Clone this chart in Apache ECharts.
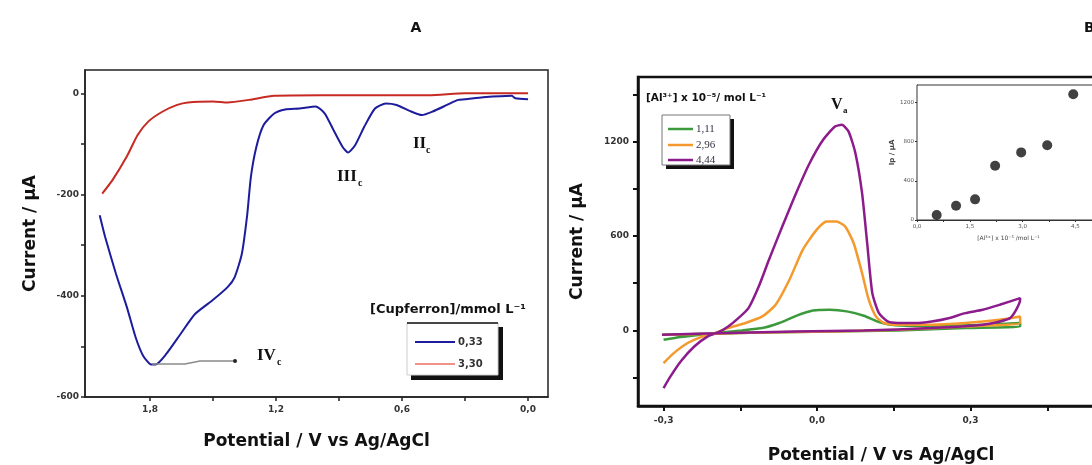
<!DOCTYPE html>
<html>
<head>
<meta charset="utf-8">
<title>Voltammograms</title>
<script src="https://cdn.jsdelivr.net/npm/echarts@6/dist/echarts.min.js"></script>
<style>
  html, body { margin:0; padding:0; background:#fff; }
  #main { width:1092px; height:465px; }
</style>
</head>
<body>
<div id="main"></div>
<script>
// panel A : cupferron, potential (V) / current (uA)
var potA_033 = [2.04, 2.014, 1.963, 1.911, 1.869, 1.834, 1.80, 1.774, 1.723, 1.654, 1.586, 1.50, 1.431, 1.397, 1.363, 1.337, 1.32, 1.294, 1.26, 1.209, 1.157, 1.089, 1.011, 0.968, 0.926, 0.883, 0.857, 0.823, 0.78, 0.729, 0.677, 0.626, 0.557, 0.506, 0.454, 0.386, 0.334, 0.30, 0.214, 0.077, 0.06, 0.0];
var curA_033 = [-241, -284, -356, -422, -482, -518, -535, -536, -515, -475, -436, -408, -383, -363, -317, -238, -165, -106, -63, -40, -32, -30, -26, -40, -73, -106, -117, -102, -66, -30, -20, -23, -36, -43, -36, -23, -13, -12, -8, -5, -10, -12];
var potA_330 = [2.028, 1.98, 1.911, 1.86, 1.809, 1.74, 1.671, 1.62, 1.50, 1.431, 1.329, 1.209, 0.986, 0.471, 0.30, 0.0];
var curA_330 = [-198, -172, -125, -83, -56, -36, -23, -18, -16, -18, -13, -5, -4, -4, 0, 0];
var tickA_x = [0, 0.3, 0.6, 0.9, 1.2, 1.5, 1.8];
var labA_x = [0, 0.6, 1.2, 1.8];
var tickA_y = [0, -100, -200, -300, -400, -500, -600];
var labA_y = [0, -200, -400, -600];

// panel B : Al(III), forward scan then return
var potB_111 = [-0.30, -0.2666, -0.227, -0.187, -0.147, -0.107, -0.074, -0.041, -0.008, 0.025, 0.058, 0.0915, 0.118, 0.1446, 0.191, 0.257, 0.324, 0.397, 0.397, 0.29, 0.158, 0.025, -0.107, -0.20, -0.303];
var curB_111 = [-59, -42, -27, -13, 0, 15, 47, 93, 127, 131, 121, 93, 57, 36, 30, 30, 36, 47, 25, 15, 0, -6, -13, -21, -27];
var potB_296 = [-0.30, -0.28, -0.253, -0.227, -0.20, -0.174, -0.14, -0.107, -0.081, -0.054, -0.028, -0.001, 0.0186, 0.038, 0.055, 0.0716, 0.088, 0.101, 0.115, 0.131, 0.158, 0.224, 0.29, 0.357, 0.397, 0.397, 0.29, 0.158, 0.025, -0.107, -0.20, -0.303];
var curB_296 = [-207, -144, -80, -42, -17, 15, 47, 89, 163, 322, 512, 639, 692, 692, 660, 554, 364, 195, 89, 47, 36, 36, 47, 68, 89, 47, 25, 4, -6, -13, -21, -27];
var potB_444 = [-0.30, -0.2865, -0.2666, -0.24, -0.2135, -0.1936, -0.1737, -0.1538, -0.134, -0.114, -0.094, -0.068, -0.041, -0.0146, 0.0119, 0.035, 0.0484, 0.0617, 0.075, 0.088, 0.098, 0.108, 0.121, 0.138, 0.158, 0.191, 0.224, 0.257, 0.29, 0.324, 0.357, 0.397, 0.397, 0.377, 0.324, 0.224, 0.091, -0.041, -0.174, -0.303];
var curB_444 = [-366, -292, -197, -102, -38, -13, 25, 78, 142, 279, 449, 660, 872, 1062, 1211, 1295, 1306, 1263, 1126, 872, 554, 237, 110, 57, 47, 47, 57, 78, 110, 131, 163, 205, 195, 78, 36, 15, 0, -6, -17, -27];
var tickB_x = [-0.3, -0.15, 0, 0.15, 0.3, 0.45];
var labB_x = [-0.3, 0, 0.3];
var tickB_y = [-300, 0, 300, 600, 900, 1200, 1500];
var labB_y = [0, 600, 1200];

// inset : peak current vs concentration
var insetConc = [0.56, 1.11, 1.65, 2.22, 2.96, 3.70, 4.44];
var insetIp = [51, 146, 211, 554, 691, 765, 1286];
var tickIn_x = [0, 0.75, 1.5, 2.25, 3, 3.75, 4.5];
var labIn_x = [0, 1.5, 3, 4.5];
var labIn_y = [0, 400, 800, 1200];

function comma(v) { return v.toFixed(1).replace('.', ','); }
function plain(v) { return String(v); }
function pairs(xs, ys) {
    var out = [];
    for (var i = 0; i < xs.length; i++) out.push([xs[i], ys[i]]);
    return out;
}

var FONT = 'DejaVu Sans';
var lab = { fontSize: 9, fontWeight: 'bold', color: '#333', fontFamily: FONT };
var axTitle = { fontSize: 17, fontWeight: 'bold', color: '#111', fontFamily: FONT };

var myChart = echarts.init(document.getElementById('main'));

function curve(name, xi, xs, ys, color, w) {
    return {
        name: name, type: 'line', xAxisIndex: xi, yAxisIndex: xi,
        data: pairs(xs, ys), showSymbol: false, smooth: 0.2,
        lineStyle: { color: color, width: w }, itemStyle: { color: color },
        z: 3
    };
}

function txt(text, x, y, font, align, color) {
    return {
        type: 'text', x: x, y: y, z: 20,
        style: { text: text, font: font, fill: color || '#111', textAlign: align || 'left', textVerticalAlign: 'middle' }
    };
}

option = {
    animation: false,
    backgroundColor: '#fff',
    grid: [
        { left: 85, top: 70, width: 463, height: 327, show: true, borderColor: '#222', borderWidth: 1.5, outerBoundsMode: 'none' },
        { left: 638, top: 77, width: 486, height: 329, show: true, borderColor: '#111', borderWidth: 2.5, outerBoundsMode: 'none' },
        { left: 917, top: 85, width: 183, height: 135, show: true, borderColor: '#333', borderWidth: 1, backgroundColor: '#fff', z: 4, outerBoundsMode: 'none' }
    ],
    xAxis: [
        {
            gridIndex: 0, type: 'value', inverse: true, min: -0.095, max: 2.11,
            axisLine: { onZero: false, lineStyle: { color: '#222', width: 1.5 } },
            axisTick: { customValues: tickA_x, length: 4, lineStyle: { color: '#222', width: 1.5 } },
            axisLabel: { customValues: labA_x, formatter: comma, margin: 8, ...lab },
            splitLine: { show: false },
            name: 'Potential / V vs Ag/AgCl', nameLocation: 'middle', nameGap: 36, nameTextStyle: axTitle
        },
        {
            gridIndex: 1, type: 'value', min: -0.35, max: 0.6,
            axisLine: { onZero: false, lineStyle: { color: '#111', width: 2.5 } },
            axisTick: { customValues: tickB_x, length: 5, lineStyle: { color: '#111', width: 2 } },
            axisLabel: { customValues: labB_x, formatter: comma, margin: 10, ...lab },
            splitLine: { show: false },
            name: 'Potential / V vs Ag/AgCl', nameLocation: 'middle', nameGap: 41, nameTextStyle: axTitle
        },
        {
            gridIndex: 2, type: 'value', min: 0, max: 5.2,
            axisLine: { onZero: false, lineStyle: { color: '#333', width: 1 } },
            axisTick: { customValues: tickIn_x, length: 2, lineStyle: { color: '#333' } },
            axisLabel: { customValues: labIn_x, formatter: comma, margin: 4, fontSize: 5.5, color: '#555', fontFamily: FONT },
            splitLine: { show: false },
            name: '[Al³⁺] x 10⁻⁵ /mol L⁻¹', nameLocation: 'middle', nameGap: 15,
            nameTextStyle: { fontSize: 6, color: '#444', fontFamily: FONT }
        }
    ],
    yAxis: [
        {
            gridIndex: 0, type: 'value', min: -600, max: 46,
            axisLine: { onZero: false, lineStyle: { color: '#222', width: 1.5 } },
            axisTick: { customValues: tickA_y, length: 4, lineStyle: { color: '#222', width: 1.5 } },
            axisLabel: { customValues: labA_y, formatter: plain, margin: 6, ...lab },
            splitLine: { show: false },
            name: 'Current / µA', nameLocation: 'middle', nameGap: 46, nameTextStyle: axTitle
        },
        {
            gridIndex: 1, type: 'value', min: -480, max: 1610,
            axisLine: { onZero: false, lineStyle: { color: '#111', width: 2.5 } },
            axisTick: { customValues: tickB_y, length: 5, lineStyle: { color: '#111', width: 2 } },
            axisLabel: { customValues: labB_y, formatter: plain, margin: 9, ...lab },
            splitLine: { show: false },
            name: 'Current / µA', nameLocation: 'middle', nameGap: 52, nameTextStyle: axTitle
        },
        {
            gridIndex: 2, type: 'value', min: 0, max: 1380,
            axisLine: { onZero: false, lineStyle: { color: '#333', width: 1 } },
            axisTick: { customValues: labIn_y, length: 2, lineStyle: { color: '#333' } },
            axisLabel: { customValues: labIn_y, formatter: plain, margin: 3, fontSize: 5.5, color: '#555', fontFamily: FONT },
            splitLine: { show: false },
            name: 'Ip / µA', nameLocation: 'middle', nameGap: 20,
            nameTextStyle: { fontSize: 7, fontWeight: 'bold', color: '#444', fontFamily: FONT }
        }
    ],
    series: [
        curve('3,30', 0, potA_330, curA_330, '#c62a22', 2),
        curve('0,33', 0, potA_033, curA_033, '#1c1c9c', 2),
        curve('1,11', 1, potB_111, curB_111, '#3c9a3c', 2.5),
        curve('2,96', 1, potB_296, curB_296, '#f49a2c', 2.5),
        curve('4,44', 1, potB_444, curB_444, '#8c1c8c', 2.5),
        {
            name: 'Ip', type: 'scatter', xAxisIndex: 2, yAxisIndex: 2,
            data: pairs(insetConc, insetIp), symbolSize: 10,
            itemStyle: { color: '#111' }, z: 6
        }
    ],
    graphic: [
        txt('A', 416, 28, 'bold 14px DejaVu Sans', 'center'),
        txt('B', 1084, 28, 'bold 14px DejaVu Sans', 'left'),

        // peak labels panel A
        txt('III', 337, 177, 'bold 17px Liberation Serif'),
        txt('c', 358, 183, 'bold 10px Liberation Serif'),
        txt('II', 413, 144, 'bold 17px Liberation Serif'),
        txt('c', 426, 150, 'bold 10px Liberation Serif'),
        txt('IV', 257, 356, 'bold 17px Liberation Serif'),
        txt('c', 277, 362, 'bold 10px Liberation Serif'),
        { type: 'polyline', z: 20, shape: { points: [[152, 364], [185, 364], [200, 361], [233, 361]] }, style: { stroke: '#8a8a8a', lineWidth: 1.5, fill: null } },
        { type: 'circle', z: 20, shape: { cx: 235, cy: 361, r: 2 }, style: { fill: '#222' } },

        // legend panel A
        txt('[Cupferron]/mmol L⁻¹', 370, 310, 'bold 13px DejaVu Sans'),
        { type: 'rect', z: 18, shape: { x: 411, y: 327, width: 92, height: 53 }, style: { fill: '#111' } },
        { type: 'rect', z: 19, shape: { x: 407, y: 323, width: 91, height: 52 }, style: { fill: '#fff', stroke: '#ccc', lineWidth: 1 } },
        { type: 'line', z: 20, shape: { x1: 407, y1: 323, x2: 498, y2: 323 }, style: { stroke: '#111', lineWidth: 1.5 } },
        { type: 'line', z: 20, shape: { x1: 415, y1: 342, x2: 455, y2: 342 }, style: { stroke: '#1c1c9c', lineWidth: 2 } },
        txt('0,33', 458, 342, 'bold 10px DejaVu Sans', 'left', '#333'),
        { type: 'line', z: 20, shape: { x1: 415, y1: 364, x2: 455, y2: 364 }, style: { stroke: '#f2908a', lineWidth: 2 } },
        txt('3,30', 458, 364, 'bold 10px DejaVu Sans', 'left', '#333'),

        // panel B peak label
        txt('V', 831, 105, 'bold 16px Liberation Serif'),
        txt('a', 843, 111, 'bold 9px Liberation Serif'),

        // legend panel B
        txt('[Al³⁺] x 10⁻⁵/ mol L⁻¹', 646, 98, 'bold 10.5px DejaVu Sans'),
        { type: 'rect', z: 18, shape: { x: 666, y: 119, width: 68, height: 50 }, style: { fill: '#111' } },
        { type: 'rect', z: 19, shape: { x: 662, y: 115, width: 68, height: 50 }, style: { fill: '#fff', stroke: '#777', lineWidth: 1 } },
        { type: 'line', z: 20, shape: { x1: 668, y1: 129, x2: 693, y2: 129 }, style: { stroke: '#3c9a3c', lineWidth: 2.5 } },
        txt('1,11', 696, 129, '11px Liberation Serif', 'left', '#334'),
        { type: 'line', z: 20, shape: { x1: 668, y1: 145, x2: 693, y2: 145 }, style: { stroke: '#f49a2c', lineWidth: 2.5 } },
        txt('2,96', 696, 145, '11px Liberation Serif', 'left', '#334'),
        { type: 'line', z: 20, shape: { x1: 668, y1: 160, x2: 693, y2: 160 }, style: { stroke: '#8c1c8c', lineWidth: 2.5 } },
        txt('4,44', 696, 160, '11px Liberation Serif', 'left', '#334')
    ]
};

myChart.setOption(option);
</script>
</body>
</html>
